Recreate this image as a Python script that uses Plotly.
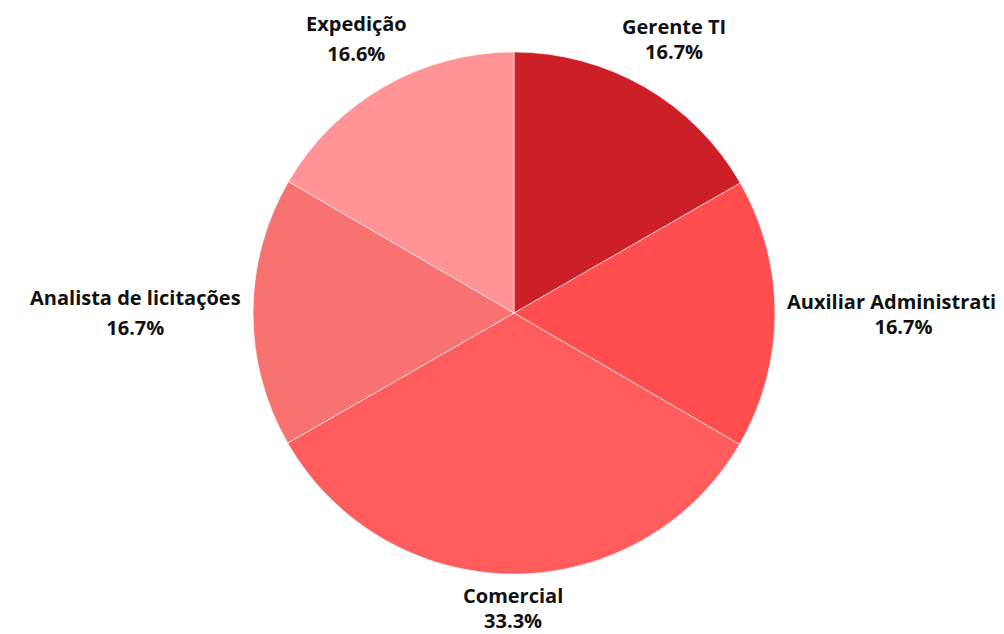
import math
import plotly.graph_objects as go

labels = ["Gerente TI", "Auxiliar Administrativo", "Comercial", "Analista de licitações", "Expedição"]
values = [16.7, 16.7, 33.3, 16.7, 16.6]
colors = ["#CC1F27", "#FF4D50", "#FF5C5E", "#F87272", "#FF9396"]

W, H = 1004, 634
OFF = 8                      # page body margin seen in the screenshot
cx, cy, r = 514 - OFF, 313 - OFF, 261
GAP = 10
CHAR_W, BOX_H = 10.5, 52
FONT_PX = 20

fig = go.Figure(go.Pie(
    labels=labels,
    values=values,
    sort=False,
    direction="clockwise",
    rotation=0,
    marker=dict(colors=colors, line=dict(color="#FFFFFF", width=0.6)),
    textinfo="none",
    hoverinfo="label+percent",
    showlegend=False,
    domain=dict(x=[(cx - r) / W, (cx + r) / W], y=[(H - cy - r) / H, (H - cy + r) / H]),
))

total = sum(values)
cum = 0.0
for lab, v in zip(labels, values):
    mid = (cum + v / 2) / total * 2 * math.pi
    cum += v
    s, c = math.sin(mid), math.cos(mid)
    pct = f"{v / total * 100:.1f}%"
    spacing = 30 if any(ch in lab for ch in "gjpqyç") else 25
    base = spacing / 1.3
    if abs(s) > 0.95:
        d = r + GAP
        px, py = cx + d * s, cy - d * c
        xa, ya = ("left" if s > 0 else "right"), "middle"
    elif abs(c) > 0.95:
        d = r + 6
        px, py = cx + d * s, cy - d * c
        xa, ya = "center", ("bottom" if c > 0 else "top")
    else:
        w = CHAR_W * max(len(lab), len(pct))
        d = r + GAP + 0.5 * abs(s) * w + 0.5 * abs(c) * BOX_H
        px, py = cx + d * s, cy - d * c
        xa = "center"
        if c > 0:
            ya = "bottom"
            py = py + 31
        else:
            ya = "top"
            py = py - 31
    fig.add_annotation(
        x=px / W, y=1 - py / H, xref="paper", yref="paper",
        xanchor=xa, yanchor=ya, showarrow=False, align="center",
        text=f"<span style='font-size:{FONT_PX}px'><b>{lab}</b></span><br>"
             f"<span style='font-size:{FONT_PX}px'><b>{pct}</b></span>",
        font=dict(family="Open Sans", size=base, color="#111111"),
    )

fig.update_layout(
    width=W, height=H,
    margin=dict(l=0, r=0, t=0, b=0),
    paper_bgcolor="white",
    plot_bgcolor="white",
)
fig.write_html("out.html")
